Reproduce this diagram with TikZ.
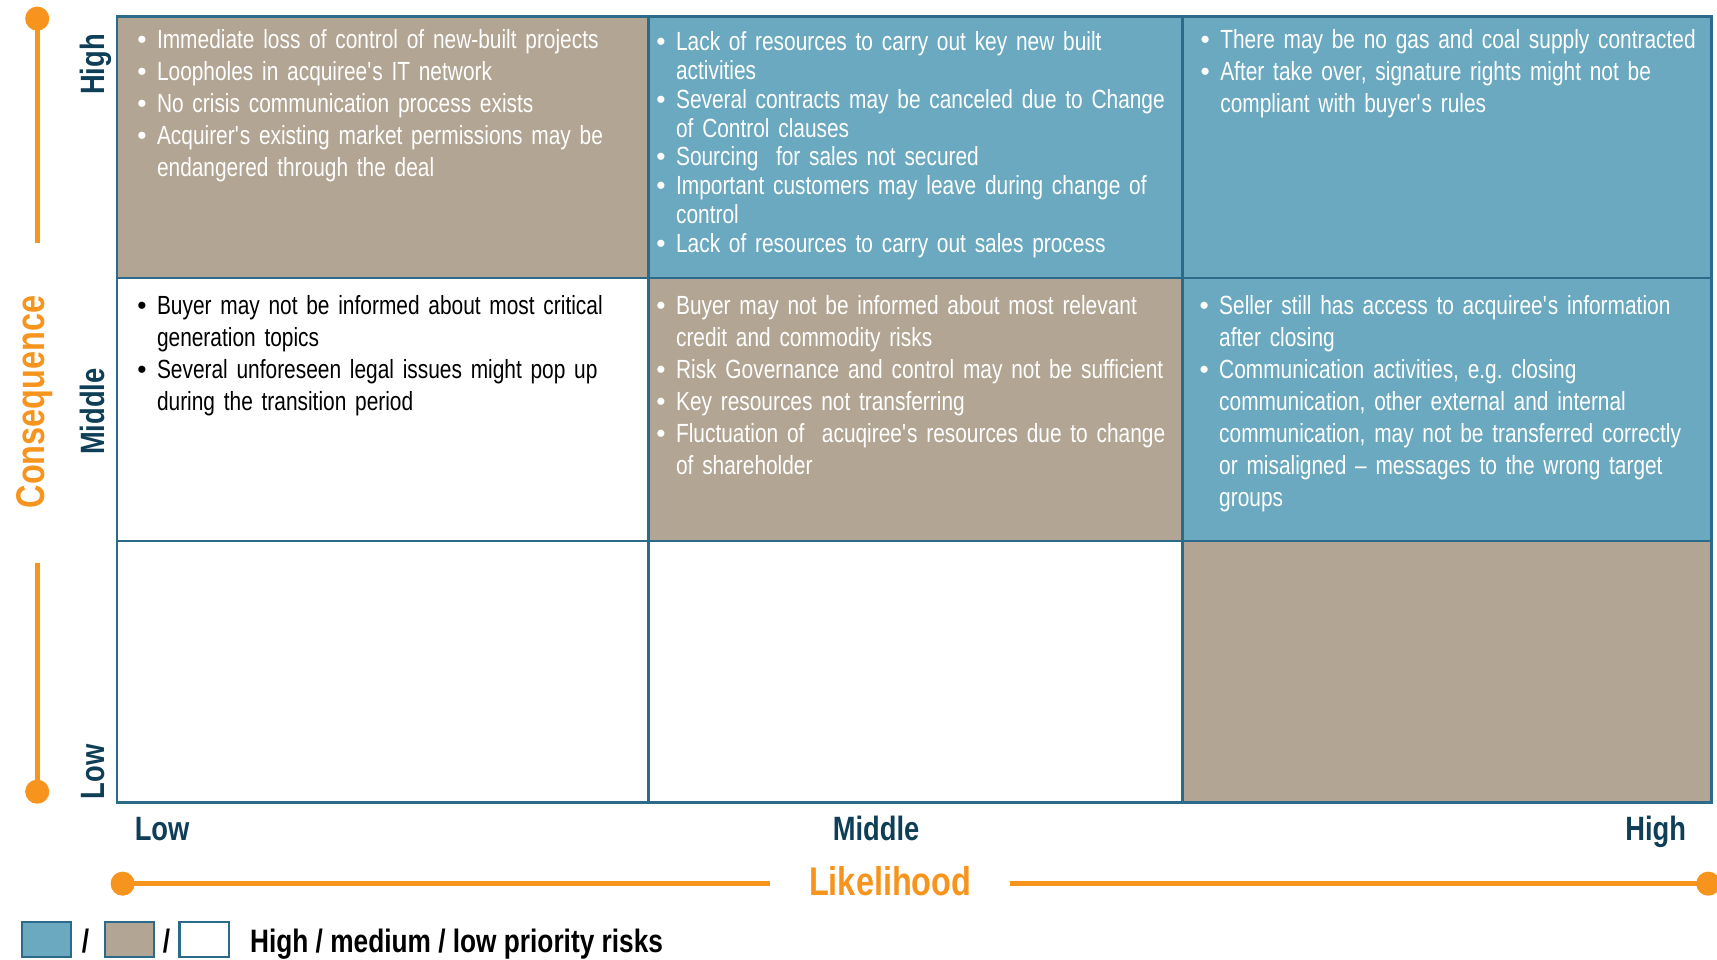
\documentclass[tikz,border=0pt]{standalone}
\usepackage{fontspec}
\setmainfont{Liberation Sans}[FakeStretch=0.795,WordSpace=0.8]
\newfontfamily\legfont{Liberation Sans}[FakeStretch=0.81]
\newfontfamily\bulfont{Liberation Sans}
\definecolor{cblue}{HTML}{6AA9C0}
\definecolor{ctan}{HTML}{B2A593}
\definecolor{cline}{HTML}{2C6A8A}
\definecolor{corange}{HTML}{F7941D}
\definecolor{cnavy}{HTML}{0F3F57}
\frenchspacing
\newlength\bulind
\setlength\bulind{9pt}
\newcommand\bfirst[1]{\hangindent=\bulind\hangafter=1\makebox[\bulind][l]{{\bulfont •}}#1}
\newcommand\bitem[1]{\par\bfirst{#1}}
\newcommand\nl{\break}
\newcommand\ap{\textquotesingle}
\begin{document}
\begin{tikzpicture}[x=0.5pt,y=0.5pt,
  cell/.style={draw=cline,line width=1.2pt,rectangle,inner sep=0pt,outer sep=0pt,anchor=north west},
  celltext/.style={anchor=base west,inner sep=0pt,text width=300pt,align=left,text=white,font=\frenchspacing\fontsize{12}{14.65}\selectfont},
  axlbl/.style={anchor=base,inner sep=0pt,text=cnavy,font=\legfont\fontsize{15.4}{18}\selectfont\bfseries},
  axtitle/.style={anchor=base,inner sep=0pt,text=corange,font=\legfont\fontsize{18.3}{22}\selectfont\bfseries},
  odot/.style={circle,fill=corange,inner sep=0pt,minimum size=11pt},
  oline/.style={draw=corange,line width=2.2pt},
  legbox/.style={draw=cline,line width=1pt,rectangle,inner sep=0pt,minimum width=22.5pt,minimum height=16pt},
  legtext/.style={inner sep=0pt,text=black,font=\legfont\fontsize{14.8}{17}\selectfont\bfseries}
]
\useasboundingbox (0,0) rectangle (1568,876);
% cells
\node[cell,fill=ctan, minimum width=242.5pt,minimum height=119.5pt] (c11) at (107,861) {};
\node[cell,fill=cblue,minimum width=244pt,  minimum height=119.5pt] (c12) at (592,861) {};
\node[cell,fill=cblue,minimum width=241.5pt,minimum height=119.5pt] (c13) at (1080,861) {};
\node[cell,fill=white,minimum width=242.5pt,minimum height=120pt] (c21) at (107,622) {};
\node[cell,fill=ctan, minimum width=244pt,  minimum height=120pt] (c22) at (592,622) {};
\node[cell,fill=cblue,minimum width=241.5pt,minimum height=120pt] (c23) at (1080,622) {};
\node[cell,fill=white,minimum width=242.5pt,minimum height=119.5pt] (c31) at (107,382) {};
\node[cell,fill=white,minimum width=244pt,  minimum height=119.5pt] (c32) at (592,382) {};
\node[cell,fill=ctan, minimum width=241.5pt,minimum height=119.5pt] (c33) at (1080,382) {};
% cell texts
\node[celltext] (t11) at (125,832) {%
\bfirst{Immediate loss of control of new-built projects}%
\bitem{Loopholes in acquiree\ap s IT network}%
\bitem{No crisis communication process exists}%
\bitem{Acquirer\ap s existing market permissions may be\nl endangered through the deal}\par};
\node[celltext,font=\frenchspacing\fontsize{12}{13.2}\selectfont] (t12) at (599,830) {%
\bfirst{Lack of resources to carry out key new built\nl activities}%
\bitem{Several contracts may be canceled due to Change\nl of Control clauses}%
\bitem{Sourcing\ \ for sales not secured}%
\bitem{Important customers may leave during change of\nl control}%
\bitem{Lack of resources to carry out sales process}\par};
\node[celltext] (t13) at (1096,832) {%
\bfirst{There may be no gas and coal supply contracted}%
\bitem{After take over, signature rights might not be\nl compliant with buyer\ap s rules}\par};
\node[celltext,text=black] (t21) at (125,589) {%
\bfirst{Buyer may not be informed about most critical\nl generation topics}%
\bitem{Several unforeseen legal issues might pop up\nl during the transition period}\par};
\node[celltext] (t22) at (599,589) {%
\bfirst{Buyer may not be informed about most relevant\nl credit and commodity risks}%
\bitem{Risk Governance and control may not be sufficient}%
\bitem{Key resources not transferring}%
\bitem{Fluctuation of\ \ acuqiree\ap s resources due to change\nl of shareholder}\par};
\node[celltext] (t23) at (1095,589) {%
\bfirst{Seller still has access to acquiree\ap s information\nl after closing}%
\bitem{Communication activities, e.g. closing\nl communication, other external and internal\nl communication, may not be transferred correctly\nl or misaligned – messages to the wrong target\nl groups}\par};
% axis labels
\node[axlbl,rotate=90] (yhigh) at (95,817) {High};
\node[axlbl,rotate=90] (ymid) at (95,500) {Middle};
\node[axlbl,rotate=90] (ylow) at (95,171) {Low};
\node[axlbl] (xlow) at (148,108) {Low};
\node[axlbl] (xmid) at (800,108) {Middle};
\node[axlbl] (xhigh) at (1512,108) {High};
% consequence axis
\node[axtitle,rotate=90] (cons) at (41,509) {Consequence};
\node[odot] (d1) at (34,859) {};
\node[odot] (d2) at (34,153) {};
\coordinate (v1end) at (34,654);
\coordinate (v2start) at (34,362);
\draw[oline] (d1.center) -- (v1end);
\draw[oline] (v2start) -- (d2.center);
% likelihood axis
\node[axtitle] (lik) at (813,58) {Likelihood};
\node[odot] (d3) at (112,69) {};
\node[odot] (d4) at (1560,69) {};
\coordinate (h1end) at (703,69);
\coordinate (h2start) at (922,69);
\draw[oline] (d3.center) -- (h1end);
\draw[oline] (h2start) -- (d4.center);
% legend
\node[legbox,fill=cblue] (lb1) at (42.5,18) {};
\node[legbox,fill=ctan] (lb2) at (118.5,18) {};
\node[legbox,fill=white] (lb3) at (186.5,18) {};
\node[legtext,anchor=base] (sl1) at (78,6) {/};
\node[legtext,anchor=base] (sl2) at (152,6) {/};
\node[legtext,anchor=base west] (legt) at (228,6) {High / medium / low priority risks};
\end{tikzpicture}
\end{document}
